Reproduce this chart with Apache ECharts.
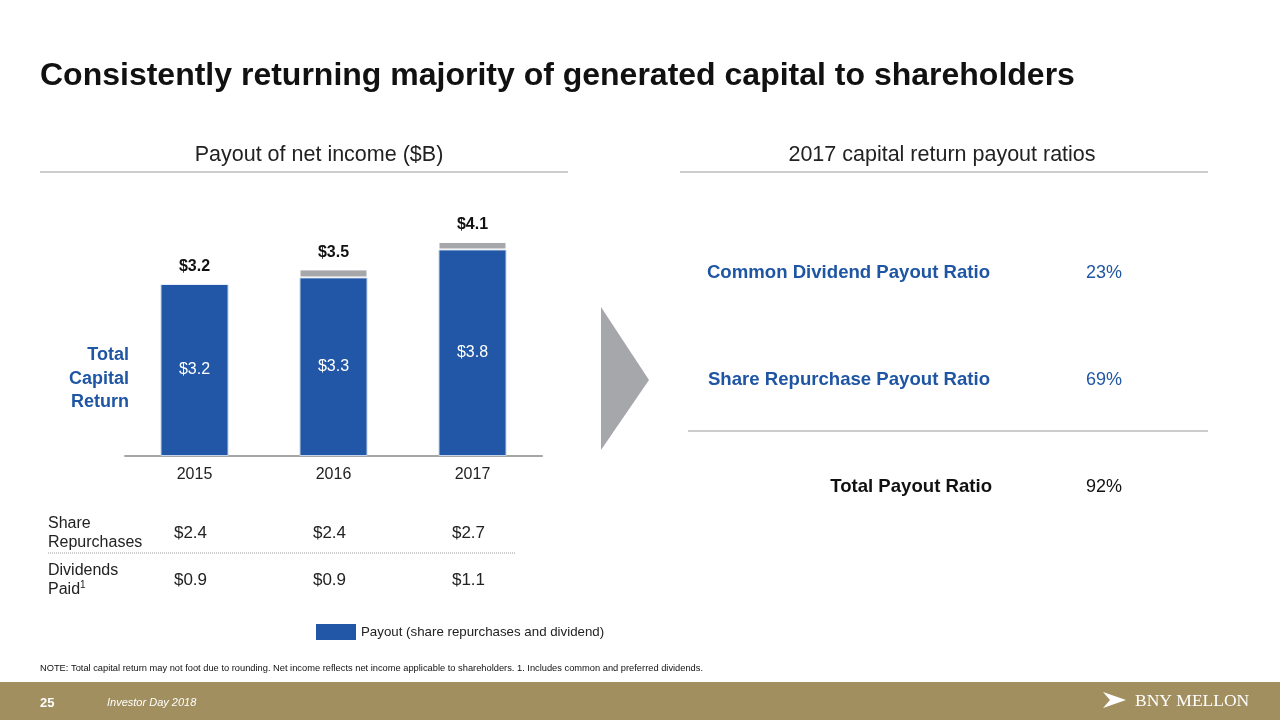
<!DOCTYPE html>
<html><head><meta charset="utf-8">
<script src="https://cdn.jsdelivr.net/npm/echarts@6/dist/echarts.min.js"></script>
<style>html,body{margin:0;padding:0;background:#fff}#c{width:1280px;height:720px}</style>
</head><body><div id="c"></div>
<script>
const years = ['2015', '2016', '2017'];
const payout = [3.2, 3.32, 3.84];
const otherPart = [0, 0.15, 0.14];
const totals = ['$3.2', '$3.5', '$4.1'];
const shareRepurchases = ['$2.4', '$2.4', '$2.7'];
const dividendsPaid = ['$0.9', '$0.9', '$1.1'];
const ratioLabels = ['Common Dividend Payout Ratio', 'Share Repurchase Payout Ratio'];
const ratioValues = ['23%', '69%'];
const totalRatio = ['Total Payout Ratio', '92%'];

const BLUE = '#2157a6';
const TXTBLUE = '#1f56a4';
const GRAY = '#a6a7aa';
const FONT = 'Liberation Sans, Arial, sans-serif';

const chart = echarts.init(document.getElementById('c'));

const graphics = [
  {type:'text', left:40, top:60, style:{text:'Consistently returning majority of generated capital to shareholders', font:'bold 32px '+FONT, fill:'#111'}},
  {type:'text', x:319, y:155, style:{text:'Payout of net income ($B)', font:'21.5px '+FONT, fill:'#222', align:'center', verticalAlign:'middle'}},
  {type:'line', shape:{x1:40,y1:172,x2:568,y2:172}, style:{stroke:'#9a9a9a', lineWidth:1}},
  {type:'text', x:942, y:155, style:{text:'2017 capital return payout ratios', font:'21.5px '+FONT, fill:'#222', align:'center', verticalAlign:'middle'}},
  {type:'line', shape:{x1:680,y1:172,x2:1208,y2:172}, style:{stroke:'#9a9a9a', lineWidth:1}},
  {type:'text', x:129, y:379, style:{text:'Total\nCapital\nReturn', font:'bold 18px '+FONT, fill:TXTBLUE, align:'right', verticalAlign:'middle', lineHeight:23.5}},
  {type:'polygon', shape:{points:[[601,307],[649,380],[601,450]]}, style:{fill:GRAY}},
  {type:'text', x:48, y:533, style:{text:'Share\nRepurchases', font:'16px '+FONT, fill:'#222', verticalAlign:'middle', lineHeight:18.5}},
  {type:'line', shape:{x1:48,y1:553,x2:516,y2:553}, style:{stroke:'#9a9a9a', lineWidth:1, lineDash:[1,1]}},
  {type:'text', x:48, y:580, style:{text:'Dividends\nPaid{s|1}', font:'16px '+FONT, fill:'#222', verticalAlign:'middle', lineHeight:18.5, rich:{s:{fontSize:10, verticalAlign:'top', fill:'#222', padding:[0,0,6,0]}}}},
  {type:'text', x:40, y:668, style:{text:'NOTE: Total capital return may not foot due to rounding. Net income reflects net income applicable to shareholders. 1. Includes common and preferred dividends.', font:'9.3px '+FONT, fill:'#111', verticalAlign:'middle'}},
  {type:'rect', shape:{x:0,y:682,width:1280,height:38}, style:{fill:'#a28f5f'}},
  {type:'text', x:40, y:703, style:{text:'25', font:'bold 13px '+FONT, fill:'#fff', verticalAlign:'middle'}},
  {type:'text', x:107, y:703, style:{text:'Investor Day 2018', font:'italic 11px '+FONT, fill:'#fff', verticalAlign:'middle'}},
  {type:'polygon', shape:{points:[[1103,692],[1126,700],[1103,708],[1110,700]]}, style:{fill:'#fff'}},
  {type:'text', x:1135, y:701, style:{text:'BNY MELLON', font:'17.5px Liberation Serif, DejaVu Serif, serif', fill:'#fff', verticalAlign:'middle'}},
  {type:'line', shape:{x1:688,y1:431,x2:1208,y2:431}, style:{stroke:'#9a9a9a', lineWidth:1}}
];
const ratioY = [273, 380];
ratioLabels.forEach((t,i)=>{
  graphics.push({type:'text', x:990, y:ratioY[i], style:{text:t, font:'bold 18.6px '+FONT, fill:TXTBLUE, align:'right', verticalAlign:'middle'}});
  graphics.push({type:'text', x:1086, y:ratioY[i], style:{text:ratioValues[i], font:'18px '+FONT, fill:TXTBLUE, verticalAlign:'middle'}});
});
graphics.push({type:'text', x:992, y:487, style:{text:totalRatio[0], font:'bold 18.6px '+FONT, fill:'#111', align:'right', verticalAlign:'middle'}});
graphics.push({type:'text', x:1086, y:487, style:{text:totalRatio[1], font:'18px '+FONT, fill:'#111', verticalAlign:'middle'}});

const tableAxis = (vals, offset) => ({
  type:'category', data:years, position:'bottom', offset:offset,
  axisLine:{show:false}, axisTick:{show:false},
  axisLabel:{margin:0, fontSize:17, fontFamily:FONT, color:'#222', padding:[0,8,0,0], formatter:(v,i)=>vals[i]}
});

chart.setOption({
  animation:false,
  textStyle:{fontFamily:FONT},
  grid:{left:125, right:738, top:214, bottom:264},
  legend:{data:['Payout (share repurchases and dividend)'], left:316, top:624, padding:0, itemWidth:40, itemHeight:16, itemGap:6,
    icon:'rect', itemStyle:{borderWidth:0}, textStyle:{fontSize:13.3, color:'#222', fontFamily:FONT, padding:[3,0,0,0]}},
  xAxis:[
    {type:'category', data:years, axisLine:{lineStyle:{color:'#a6a6a6', width:2}}, axisTick:{show:false},
     axisLabel:{margin:11, fontSize:16, color:'#222', fontFamily:FONT}},
    tableAxis(shareRepurchases, 69),
    tableAxis(dividendsPaid, 116)
  ],
  yAxis:{type:'value', min:0, max:4.5, show:false, splitLine:{show:false}},
  series:[
    {name:'Payout (share repurchases and dividend)', type:'bar', stack:'a', barWidth:68, data:payout,
     itemStyle:{color:BLUE, borderColor:'#c3d3ea', borderWidth:1},
     label:{show:true, position:'inside', color:'#fff', fontSize:16, formatter:p=>'$'+p.value.toFixed(1)}},
    {name:'other', type:'bar', stack:'a', barWidth:68, data:otherPart,
     itemStyle:{color:GRAY, borderColor:'#fff', borderWidth:1},
     label:{show:true, position:'top', distance:9, color:'#111', fontWeight:'bold', fontSize:16, formatter:p=>totals[p.dataIndex]}}
  ],
  graphic:graphics
});
</script></body></html>
